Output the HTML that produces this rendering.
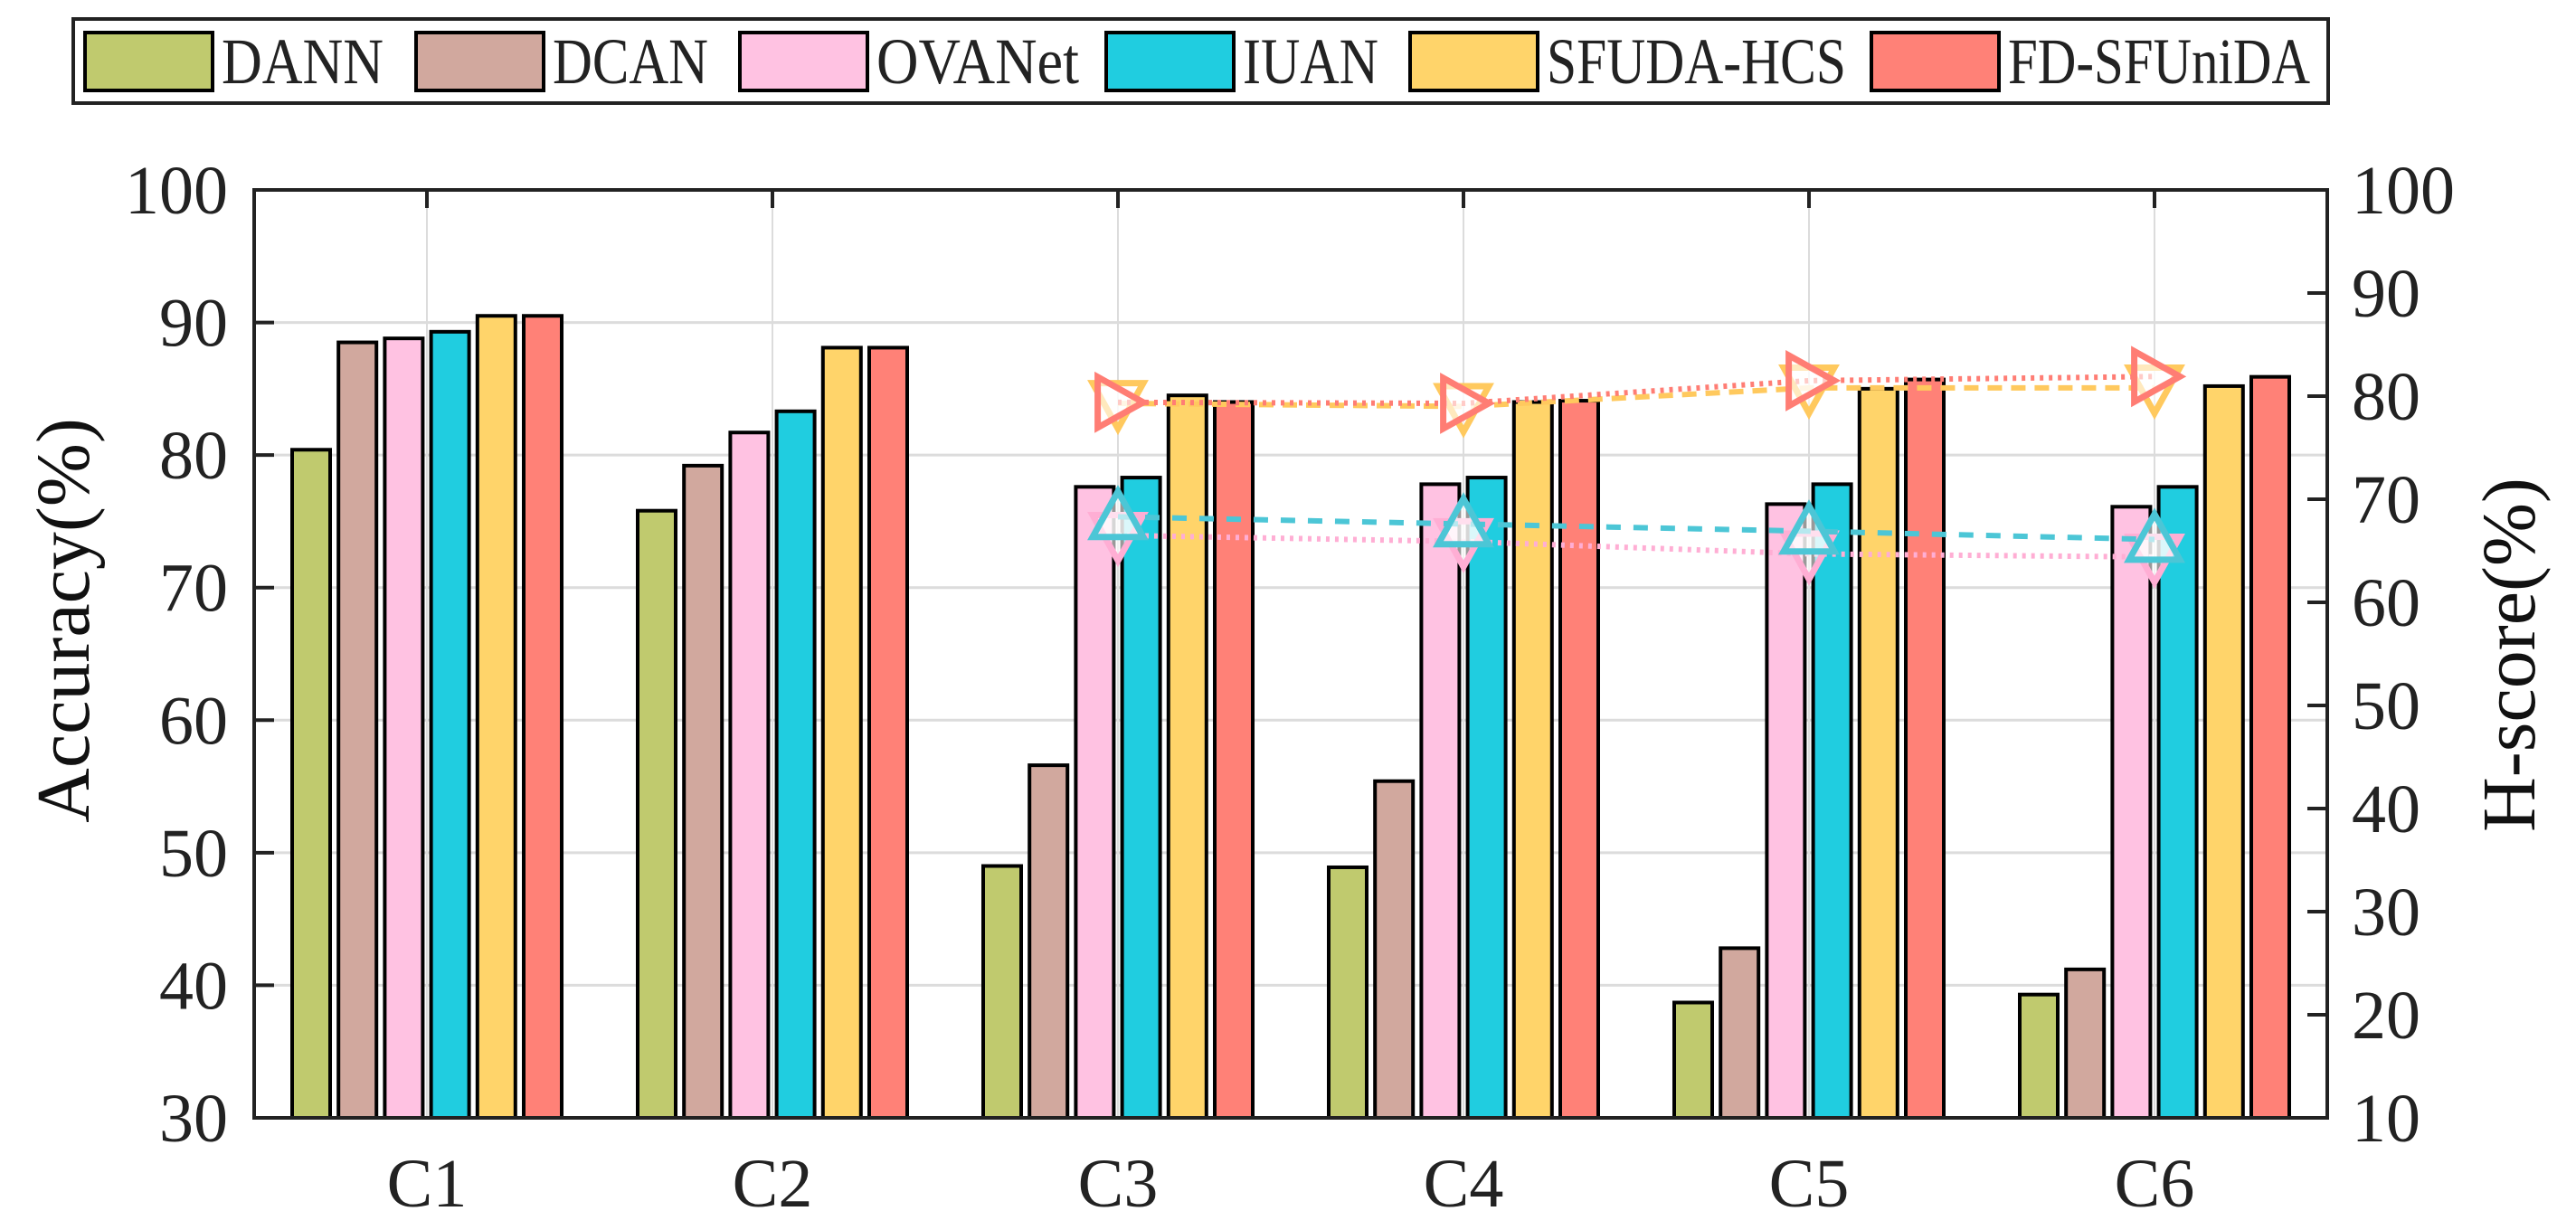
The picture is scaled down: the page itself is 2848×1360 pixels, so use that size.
<!DOCTYPE html>
<html><head><meta charset="utf-8"><style>
html,body{margin:0;padding:0;background:#fff;}
svg{display:block;font-family:"Liberation Serif",serif;}
</style></head><body>
<svg id="chart" width="2848" height="1360" viewBox="0 0 2848 1360">
<g id="grid"></g>
<g id="bars"></g>
<g id="lines"></g>
<g id="axes"></g>
<g id="legend"></g>
<text x="0" y="0" transform="translate(98,686) rotate(-90)" text-anchor="middle" font-size="84" fill="#111">Accuracy(%)</text>
<text x="0" y="0" transform="translate(2802,724) rotate(-90)" text-anchor="middle" font-size="84" fill="#111">H-score(%)</text>
</svg>
<script>
const categories = ["C1","C2","C3","C4","C5","C6"];
const methods = ["DANN","DCAN","OVANet","IUAN","SFUDA-HCS","FD-SFUniDA"];
const colors = ["#c0ca6e","#d1a89e","#ffc2e2","#20cde0","#ffd46a","#ff8177"];
const accDANN = [80.4,75.8,49.0,48.9,38.7,39.3];
const accDCAN = [88.5,79.2,56.6,55.4,42.8,41.2];
const accOVANet = [88.8,81.7,77.6,77.8,76.3,76.1];
const accIUAN = [89.3,83.3,78.3,78.3,77.8,77.6];
const accHCS = [90.5,88.1,84.5,84.0,85.0,85.2];
const accFD = [90.5,88.1,84.0,84.1,85.7,85.9];
const hCats = ["C3","C4","C5","C6"];
const hOVANet = [66.5,65.9,64.7,64.4];
const hIUAN = [68.3,67.6,66.9,66.1];
const hHCS = [79.3,79.0,80.8,80.8];
const hFD = [79.4,79.3,81.5,81.9];
const leftTicks = [30,40,50,60,70,80,90,100];
const rightTicks = [10,20,30,40,50,60,70,80,90,100];

const NS="http://www.w3.org/2000/svg";
const L=281,R=2573,T=210,B=1236;
const yL=v=>B-(v-30)/70*(B-T);
const yR=v=>B-(v-10)/90*(B-T);
const step=(R-L)/categories.length;
const xC=i=>L+step*(i+0.5);
function mk(tag,attrs,parent){const e=document.createElementNS(NS,tag);for(const k in attrs)e.setAttribute(k,attrs[k]);parent.appendChild(e);return e;}
const grid=document.getElementById('grid'),bars=document.getElementById('bars'),lines=document.getElementById('lines'),axes=document.getElementById('axes'),legend=document.getElementById('legend');

leftTicks.forEach(v=>{
  if(v>30&&v<100){const g=mk('line',{x1:L,x2:R,y1:yL(v),y2:yL(v),stroke:'#dcdcdc','stroke-width':3},grid);
  
  }
  const t=mk('line',{x1:L,x2:L+22,y1:yL(v),y2:yL(v),stroke:'#222','stroke-width':4},axes);
  
  
  const tx=mk('text',{x:252,y:yL(v)+26,'text-anchor':'end','font-size':76,fill:'#222'},axes);tx.textContent=v;
  
  
});
rightTicks.forEach(v=>{
  const t=mk('line',{x1:R-22,x2:R,y1:yR(v),y2:yR(v),stroke:'#222','stroke-width':4},axes);
  
  
  const tx=mk('text',{x:2600,y:yR(v)+26,'font-size':76,fill:'#222'},axes);tx.textContent=v;
  
  
});
categories.forEach((c,i)=>{
  const g=mk('line',{x1:xC(i),x2:xC(i),y1:T,y2:B,stroke:'#dcdcdc','stroke-width':2},grid);
  
  
  const t=mk('line',{x1:xC(i),x2:xC(i),y1:T,y2:T+20,stroke:'#222','stroke-width':4},axes);
  
  
  const tx=mk('text',{x:xC(i),y:1334,'text-anchor':'middle','font-size':76,fill:'#222'},axes);tx.textContent=c;
  
  
});
const frame=mk('rect',{x:L,y:T,width:R-L,height:B-T,fill:'none',stroke:'#222','stroke-width':4},axes);



const series=[accDANN,accDCAN,accOVANet,accIUAN,accHCS,accFD];
const bw=42,bs=51.2;
series.forEach((arr,j)=>{
  arr.forEach((v,i)=>{
    const x=xC(i)-149+j*bs;
    const r=mk('rect',{x:x,y:yL(v),width:bw,height:B-yL(v),fill:colors[j],stroke:'#000','stroke-width':4},bars);
    
    
  });
});

const hSeries=[
 {d:hOVANet,c:'#ffaed4',dash:'4 6',m:'down',name:'ovanet'},
 {d:hIUAN,c:'#4cc6d6',dash:'16 14',m:'up',name:'iuan'},
 {d:hHCS,c:'#ffc95e',dash:'16 10',m:'down',name:'sfuda-hcs'},
 {d:hFD,c:'#ff7d74',dash:'4 6',m:'right',name:'fd-sfunida'}];
hSeries.forEach(s=>{
  const pts=s.d.map((v,k)=>[xC(categories.indexOf(hCats[k])),yR(v)]);
  const p=mk('polyline',{points:pts.map(p=>p.join(',')).join(' '),fill:'none',stroke:s.c,'stroke-width':6,'stroke-dasharray':s.dash},lines);
  
  
  pts.forEach(([x,y])=>{
    let d;const a=28;
    if(s.m==='up')d=`M${x},${y-a} L${x+a},${y+a*0.8} L${x-a},${y+a*0.8}Z`;
    else if(s.m==='down')d=`M${x-a},${y-a*0.8} L${x+a},${y-a*0.8} L${x},${y+a}Z`;
    else d=`M${x-a*0.8},${y-a} L${x+a},${y} L${x-a*0.8},${y+a}Z`;
    const m=mk('path',{d:d,fill:'#fff','fill-opacity':0.6,stroke:s.c,'stroke-width':7},lines);
    
    
  });
});

const lb=mk('rect',{x:81,y:21,width:2493,height:93,fill:'#fff',stroke:'#222','stroke-width':4},legend);


const swX=[94,460,818,1223,1559,2069];
const txtEnd=[424,783,1193,1524,2041,2554];
methods.forEach((m,j)=>{
  const g=mk('g',{},legend);
  
  
  mk('rect',{x:swX[j],y:36,width:141,height:64,fill:colors[j],stroke:'#000','stroke-width':4},g);
  const t=mk('text',{x:swX[j]+151,y:92,'font-size':72,fill:'#222',textLength:txtEnd[j]-swX[j]-151,lengthAdjust:'spacingAndGlyphs'},g);
  t.textContent=m;
});
</script>
</body></html>
